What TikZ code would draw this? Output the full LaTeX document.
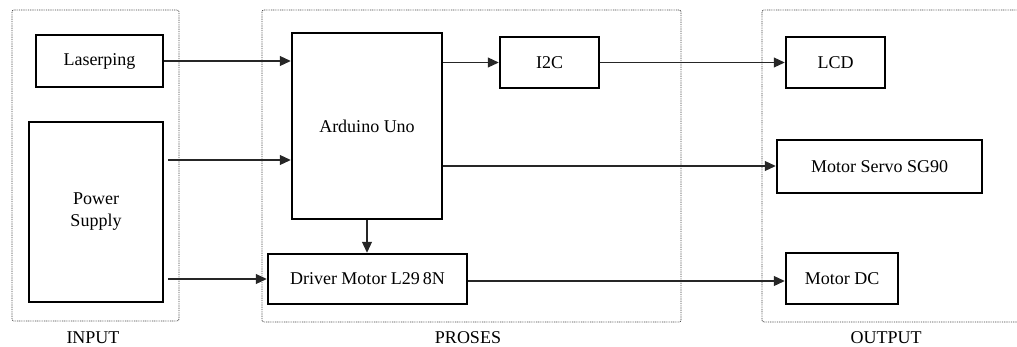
\documentclass[tikz,border=0pt]{standalone}
\usepackage{fontspec}
\setmainfont{Liberation Serif}
\usetikzlibrary{arrows.meta}
\begin{document}
\begin{tikzpicture}[x=1pt,y=-1pt,
  blk/.style={draw=black,line width=2.5pt,inner sep=0pt,align=center,font=\fontsize{18}{22}\selectfont},
  grp/.style={draw=black!75,dash pattern=on 0.9pt off 0.9pt,line width=0.8pt,rounded corners=2pt},
  lbl/.style={font=\fontsize{18}{22}\selectfont,inner sep=0pt},
  arr/.style={draw=black!85,line width=1.1pt,-{Triangle[length=11pt,width=10pt]}},
  ln/.style={draw=black!85,line width=1.1pt}]
\useasboundingbox (0,0) rectangle (1017,346);
% groups
\draw[grp] (12,10) rectangle (179,321);
\draw[grp] (262,10) rectangle (681,322);
\draw[grp] (1020,10) -- (762,10) -- (762,322) -- (1020,322);
\node[lbl] (lin) at (93,338) {INPUT};
\node[lbl] (lpr) at (468,338) {PROSES};
\node[lbl] (lout) at (886,338) {OUTPUT};
% blocks
\node[blk,minimum width=127pt,minimum height=52pt] (las) at (99.5,61) {Laserping};
\node[blk,minimum width=134pt,minimum height=180pt] (pow) at (96,212) {Power\\Supply};
\node[blk,minimum width=150pt,minimum height=186pt] (ard) at (367,126) {Arduino Uno};
\node[blk,minimum width=99pt,minimum height=51pt] (i2c) at (549.5,62.5) {I2C};
\node[blk,minimum width=199pt,minimum height=50pt] (drv) at (367.5,279) {Driver Motor L29\,8N};
\node[blk,minimum width=99pt,minimum height=51pt] (lcd) at (835.5,62.5) {LCD};
\node[blk,minimum width=205pt,minimum height=53pt] (srv) at (879.5,166.5) {Motor Servo SG90};
\node[blk,minimum width=112pt,minimum height=51pt] (mdc) at (842,278.5) {Motor DC};
% helper coordinates
\coordinate (p1) at ([xshift=4pt]pow.east |- 0,160);
\coordinate (p2) at ([xshift=4pt]pow.east |- 0,279);
\coordinate (a3) at (ard.east |- 0,166);
\coordinate (d1) at (drv.east |- 0,281);
% connectors
\draw[arr] (las.east) -- (las.east -| ard.west);
\draw[arr] (p1) -- (p1 -| ard.west);
\draw[arr] (p2) -- (p2 -| drv.west);
\draw[arr] (ard.east |- i2c.west) -- (i2c.west);
\draw[arr] (i2c.east) -- (lcd.west);
\draw[arr] (a3) -- (a3 -| srv.west);
\draw[arr] (d1) -- (d1 -| mdc.west);
\draw[arr] (ard.south) -- (ard.south |- drv.north);
\end{tikzpicture}
\end{document}
